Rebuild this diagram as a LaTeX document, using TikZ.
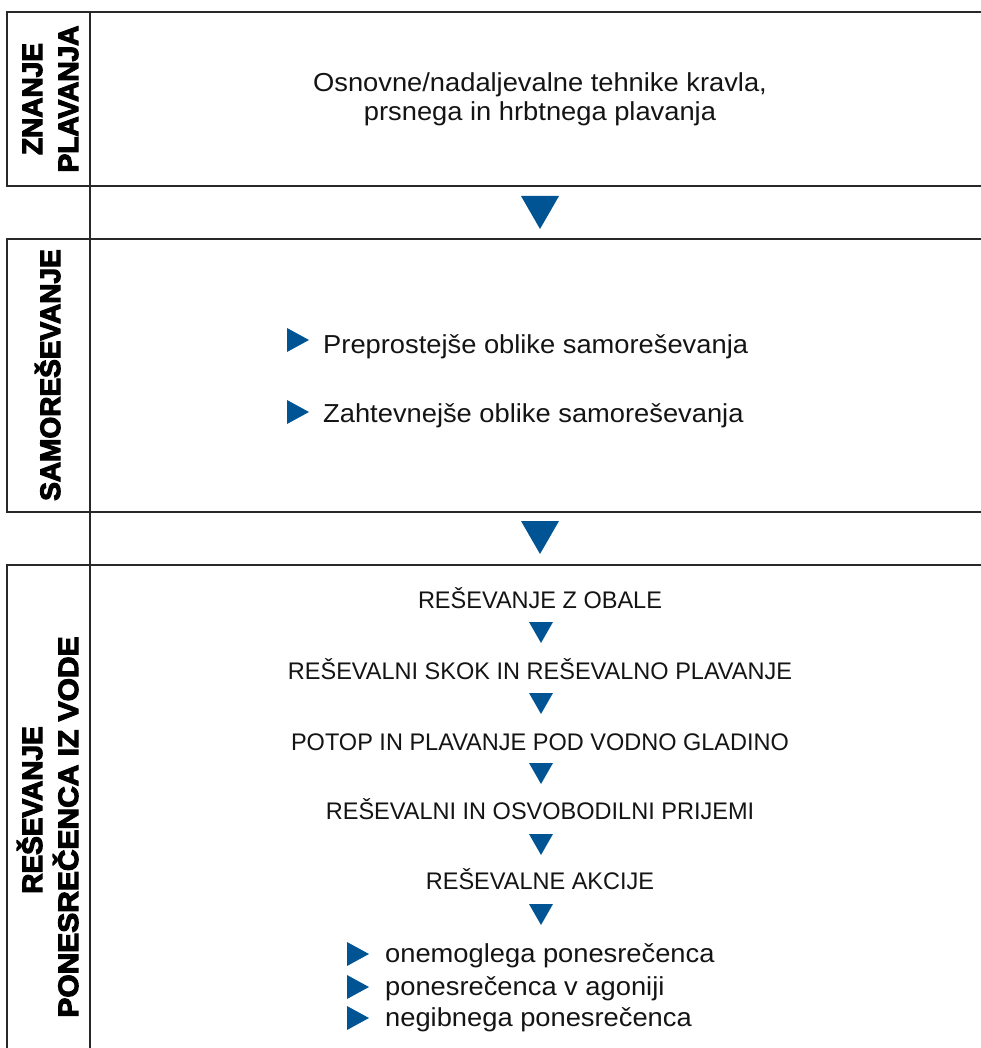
\documentclass[tikz,border=0pt]{standalone}
\usepackage{fontspec}
\setmainfont{Liberation Sans}
\newfontfamily\capsfont{Liberation Sans}[FakeStretch=0.98]
\newfontfamily\lowerfont{Liberation Sans}[FakeStretch=1.05]
\newfontfamily\headfont{Liberation Sans Bold}[FakeBold=4]
\newfontfamily\wideheadfont{Liberation Sans Bold}[FakeBold=4, FakeStretch=1.07]
\definecolor{arrowblue}{RGB}{0,84,147}
\definecolor{rulegray}{RGB}{40,40,40}
\tikzset{
  rule/.style={line width=2pt, draw=rulegray},
  steptext/.style={font=\capsfont\fontsize{24}{29}\selectfont, text=black!92, inner sep=0pt, anchor=base},
  bodytext/.style={font=\lowerfont\fontsize{26}{31}\selectfont, text=black!92, inner sep=0pt, anchor=base},
  sidelabel/.style={font=\headfont\fontsize{28}{32}\selectfont, text=black, inner sep=0pt, anchor=base, rotate=90},
  pics/bigdown/.style={code={\fill[arrowblue] (-19,0) -- (19,0) -- (0,33) -- cycle;}},
  pics/smalldown/.style={code={\fill[arrowblue] (-12,0) -- (12,0) -- (0,21) -- cycle;}},
  pics/bullet/.style={code={\fill[arrowblue] (0,-12) -- (0,12) -- (22,0) -- cycle;}},
}
\begin{document}
\begin{tikzpicture}[x=1pt,y=-1pt]
\useasboundingbox (0,0) rectangle (981,1048);
\clip (0,0) rectangle (981,1048);

% frames of the three bands and the label column divider
\draw[rule] (985,12) -| (7,186) -- (985,186);
\draw[rule] (985,239) -| (7,512) -- (985,512);
\draw[rule] (985,565) -| (7,1060);
\draw[rule] (90,12) -- (90,1060);

% band 1: swimming knowledge
\node[sidelabel] (knowA) at (42,99) {ZNANJE};
\node[sidelabel] (knowB) at (78,99) {PLAVANJA};
\node[bodytext] (swimA) at (540,92) {Osnovne/nadaljevalne tehnike kravla,};
\node[bodytext] (swimB) at (540,121) {prsnega in hrbtnega plavanja};

\pic at (540,196) {bigdown};

% band 2: self-rescue
\node[sidelabel] (self) at (60,375) {SAMOREŠEVANJE};
\pic at (287,340) {bullet};
\node[bodytext, anchor=base west] (selfA) at (323,353) {Preprostejše oblike samoreševanja};
\pic at (287,412) {bullet};
\node[bodytext, anchor=base west] (selfB) at (323,422) {Zahtevnejše oblike samoreševanja};

\pic at (540,521) {bigdown};

% band 3: rescuing the injured from water
\node[sidelabel] (rescA) at (42,810) {REŠEVANJE};
\node[sidelabel, font=\wideheadfont\fontsize{28}{32}\selectfont] (rescB) at (78,827) {PONESREČENCA IZ VODE};

\node[steptext] (step1) at (540,608) {REŠEVANJE Z OBALE};
\pic at (541,622) {smalldown};
\node[steptext] (step2) at (540,679) {REŠEVALNI SKOK IN REŠEVALNO PLAVANJE};
\pic at (541,693) {smalldown};
\node[steptext] (step3) at (540,750) {POTOP IN PLAVANJE POD VODNO GLADINO};
\pic at (541,763) {smalldown};
\node[steptext] (step4) at (540,819) {REŠEVALNI IN OSVOBODILNI PRIJEMI};
\pic at (541,834) {smalldown};
\node[steptext] (step5) at (540,889) {REŠEVALNE AKCIJE};
\pic at (541,904) {smalldown};

\pic at (347,954) {bullet};
\node[bodytext, anchor=base west] (caseA) at (385,962) {onemoglega ponesrečenca};
\pic at (347,987) {bullet};
\node[bodytext, anchor=base west] (caseB) at (385,995) {ponesrečenca v agoniji};
\pic at (347,1018) {bullet};
\node[bodytext, anchor=base west] (caseC) at (385,1026) {negibnega ponesrečenca};
\end{tikzpicture}
\end{document}
